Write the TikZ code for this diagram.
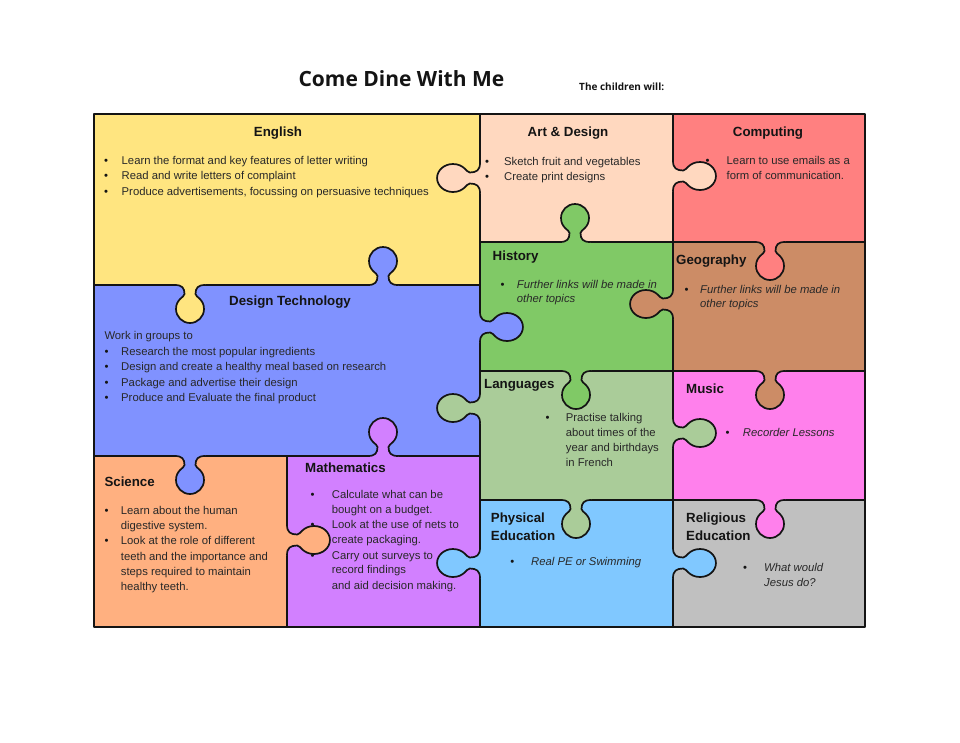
\documentclass[tikz,border=0pt]{standalone}
\usepackage{fontspec}
\setmainfont{Liberation Sans}
\newfontfamily\titlefont{Open Sans}
\definecolor{cEng}{RGB}{255,229,128}
\definecolor{cArt}{RGB}{255,216,191}
\definecolor{cCom}{RGB}{255,128,128}
\definecolor{cDT}{RGB}{128,146,255}
\definecolor{cHis}{RGB}{128,201,102}
\definecolor{cGeo}{RGB}{204,140,102}
\definecolor{cLan}{RGB}{170,204,153}
\definecolor{cMus}{RGB}{255,128,236}
\definecolor{cSci}{RGB}{255,176,128}
\definecolor{cMat}{RGB}{210,128,255}
\definecolor{cPE}{RGB}{128,200,255}
\definecolor{cRE}{RGB}{192,192,192}
\definecolor{ink}{RGB}{20,20,20}
\definecolor{txt}{RGB}{40,40,40}
% knob: x, y (edge point), rotation, colour of the piece it belongs to, length scale
\newcommand\knob[5]{%
  \begin{scope}[shift={(#1,#2)},rotate=#3,yscale=#5]
    \fill[#4] (-15,-2) -- (-15,0) .. controls (-8,0) and (-5.5,3) .. (-5.5,9)
      .. controls (-5.5,12) and (-14,14) .. (-14,24)
      .. controls (-14,31.7) and (-7.7,38) .. (0,38)
      .. controls (7.7,38) and (14,31.7) .. (14,24)
      .. controls (14,14) and (5.5,12) .. (5.5,9)
      .. controls (5.5,3) and (8,0) .. (15,0) -- (15,-2) -- cycle;
    \draw[outl] (-15,0) .. controls (-8,0) and (-5.5,3) .. (-5.5,9)
      .. controls (-5.5,12) and (-14,14) .. (-14,24)
      .. controls (-14,31.7) and (-7.7,38) .. (0,38)
      .. controls (7.7,38) and (14,31.7) .. (14,24)
      .. controls (14,14) and (5.5,12) .. (5.5,9)
      .. controls (5.5,3) and (8,0) .. (15,0);
  \end{scope}}
\begin{document}
\begin{tikzpicture}[x=1pt,y=-1pt,
  outl/.style={draw=ink,line width=1.7pt,line join=round},
  body/.style={font=\fontsize{11.3}{13}\selectfont,text=txt,inner sep=0pt,anchor=base west},
  ital/.style={body,font=\itshape\fontsize{11.3}{13}\selectfont},
  head/.style={font=\bfseries\fontsize{13.3}{15}\selectfont,text=ink,inner sep=0pt,anchor=base west},
  bul/.style={font=\fontsize{11.3}{13}\selectfont,text=ink,inner sep=0pt,anchor=base}]
\useasboundingbox (0,0) rectangle (960,742);
\fill[white] (0,0) rectangle (960,742);
% pieces
\fill[cEng] (94,114) rectangle (480,285);
\fill[cArt] (480,114) rectangle (673,242);
\fill[cCom] (673,114) rectangle (865,242);
\fill[cDT] (94,285) rectangle (480,456);
\fill[cHis] (480,242) rectangle (673,371);
\fill[cGeo] (673,242) rectangle (865,371);
\fill[cSci] (94,456) rectangle (287,627);
\fill[cMat] (287,456) rectangle (480,627);
\fill[cLan] (480,371) rectangle (673,500);
\fill[cMus] (673,371) rectangle (865,500);
\fill[cPE] (480,500) rectangle (673,627);
\fill[cRE] (673,500) rectangle (865,627);
% grid lines
\draw[outl] (94,114) rectangle (865,627);
\draw[outl] (480,114) -- (480,627);
\draw[outl] (673,114) -- (673,627);
\draw[outl] (287,456) -- (287,627);
\draw[outl] (94,285) -- (480,285);
\draw[outl] (94,456) -- (480,456);
\draw[outl] (480,242) -- (865,242);
\draw[outl] (480,371) -- (865,371);
\draw[outl] (480,500) -- (865,500);
% knobs
\knob{480}{178}{-90}{cArt}{1.13}
\knob{383}{285}{180}{cDT}{1}
\knob{190}{285}{0}{cEng}{1}
\knob{575}{242}{180}{cHis}{1}
\knob{673}{176}{90}{cArt}{1.13}
\knob{770}{242}{0}{cCom}{1}
\knob{673}{304}{-90}{cGeo}{1.13}
\knob{480}{327}{90}{cDT}{1.13}
\knob{576}{371}{0}{cHis}{1}
\knob{480}{408}{-90}{cLan}{1.13}
\knob{770}{371}{0}{cGeo}{1}
\knob{673}{433}{90}{cLan}{1.13}
\knob{383}{456}{180}{cMat}{1}
\knob{190}{456}{0}{cDT}{1}
\knob{287}{540}{90}{cSci}{1.13}
\knob{480}{563}{-90}{cPE}{1.13}
\knob{576}{500}{0}{cLan}{1}
\knob{770}{500}{0}{cMus}{1}
\knob{673}{563}{90}{cPE}{1.13}
% title
\node[anchor=base west,inner sep=0pt,text=ink,font=\titlefont\bfseries\fontsize{21}{24}\selectfont] (title) at (298.3,86.8) {Come Dine With Me};
\node[anchor=base west,inner sep=0pt,text=ink,font=\titlefont\bfseries\fontsize{10}{12}\selectfont] (sub) at (579,90) {The children will:};
% English
\node[head,anchor=base] (hEng) at (278,136.6) {English};
\node[bul] (bEng1) at (106,164.3) {\textbullet};
\node[bul] (bEng2) at (106,179.6) {\textbullet};
\node[bul] (bEng3) at (106,195) {\textbullet};
\node[body] (tEng1) at (121.5,164.3) {Learn the format and key features of letter writing};
\node[body] (tEng2) at (121.5,179.6) {Read and write letters of complaint};
\node[body] (tEng3) at (121.5,195) {Produce advertisements, focussing on persuasive techniques};
% Art
\node[head,anchor=base] (hArt) at (568,136.7) {Art \& Design};
\node[bul] (bArt1) at (487,165) {\textbullet};
\node[bul] (bArt2) at (487,180.7) {\textbullet};
\node[body] (tArt1) at (504,165) {Sketch fruit and vegetables};
\node[body] (tArt2) at (504,180.7) {Create print designs};
% Computing
\node[head,anchor=base] (hCom) at (768,136.7) {Computing};
\node[bul] (bCom1) at (707.5,164.3) {\textbullet};
\node[body] (tCom1) at (726.5,164.3) {Learn to use emails as a};
\node[body] (tCom2) at (726.5,179.3) {form of communication.};
% History
\node[head] (hHis) at (492.5,260.7) {History};
\node[bul] (bHis1) at (502.5,288.3) {\textbullet};
\node[ital] (tHis1) at (516.7,288.3) {Further links will be made in};
\node[ital] (tHis2) at (516.7,302.7) {other topics};
% Geography
\node[head] (hGeo) at (676,264.3) {Geography};
\node[bul] (bGeo1) at (686.5,293.3) {\textbullet};
\node[ital] (tGeo1) at (700,293.3) {Further links will be made in};
\node[ital] (tGeo2) at (700,307.3) {other topics};
% Design Technology
\node[head,anchor=base] (hDT) at (290,305.7) {Design Technology};
\node[body] (tDT0) at (104.3,339.3) {Work in groups to};
\node[bul] (bDT1) at (106.7,355) {\textbullet};
\node[bul] (bDT2) at (106.7,370.7) {\textbullet};
\node[bul] (bDT3) at (106.7,386) {\textbullet};
\node[bul] (bDT4) at (106.7,401.7) {\textbullet};
\node[body] (tDT1) at (121,355) {Research the most popular ingredients};
\node[body] (tDT2) at (121,370.7) {Design and create a healthy meal based on research};
\node[body] (tDT3) at (121,386) {Package and advertise their design};
\node[body] (tDT4) at (121,401.7) {Produce and Evaluate the final product};
% Languages
\node[head] (hLan) at (484,388.3) {Languages};
\node[bul] (bLan1) at (547.7,421.7) {\textbullet};
\node[body] (tLan1) at (565.7,421.7) {Practise talking};
\node[body] (tLan2) at (565.7,436.7) {about times of the};
\node[body] (tLan3) at (565.7,451.7) {year and birthdays};
\node[body] (tLan4) at (565.7,466.5) {in French};
% Music
\node[head] (hMus) at (686,393.3) {Music};
\node[bul] (bMus1) at (727.7,436) {\textbullet};
\node[ital] (tMus1) at (742.7,436) {Recorder Lessons};
% Science
\node[head] (hSci) at (104.3,486) {Science};
\node[bul] (bSci1) at (106.7,514) {\textbullet};
\node[bul] (bSci2) at (106.7,544.3) {\textbullet};
\node[body] (tSci1) at (120.7,514) {Learn about the human};
\node[body] (tSci2) at (120.7,529.3) {digestive system.};
\node[body] (tSci3) at (120.7,544.3) {Look at the role of different};
\node[body] (tSci4) at (120.7,560) {teeth and the importance and};
\node[body] (tSci5) at (120.7,575) {steps required to maintain};
\node[body] (tSci6) at (120.7,590) {healthy teeth.};
% Mathematics
\node[head] (hMat) at (305,472.3) {Mathematics};
\node[bul] (bMat1) at (312.7,498.3) {\textbullet};
\node[bul] (bMat2) at (312.7,528.3) {\textbullet};
\node[bul] (bMat3) at (312.7,559) {\textbullet};
\node[body] (tMat1) at (331.7,498.3) {Calculate what can be};
\node[body] (tMat2) at (331.7,513.3) {bought on a budget.};
\node[body] (tMat3) at (331.7,528.3) {Look at the use of nets to};
\node[body] (tMat4) at (331.7,543.3) {create packaging.};
\node[body] (tMat5) at (331.7,559) {Carry out surveys to};
\node[body] (tMat6) at (331.7,573.8) {record findings};
\node[body] (tMat7) at (331.7,589) {and aid decision making.};
% Physical Education
\node[head] (hPE1) at (490.7,522.3) {Physical};
\node[head] (hPE2) at (490.7,540) {Education};
\node[bul] (bPE1) at (512.3,565.3) {\textbullet};
\node[ital] (tPE1) at (531,565.3) {Real PE or Swimming};
% Religious Education
\node[head] (hRE1) at (686,522.3) {Religious};
\node[head] (hRE2) at (686,540) {Education};
\node[bul] (bRE1) at (745,571.7) {\textbullet};
\node[ital] (tRE1) at (764,571.7) {What would};
\node[ital] (tRE2) at (764,586) {Jesus do?};
\end{tikzpicture}
\end{document}
